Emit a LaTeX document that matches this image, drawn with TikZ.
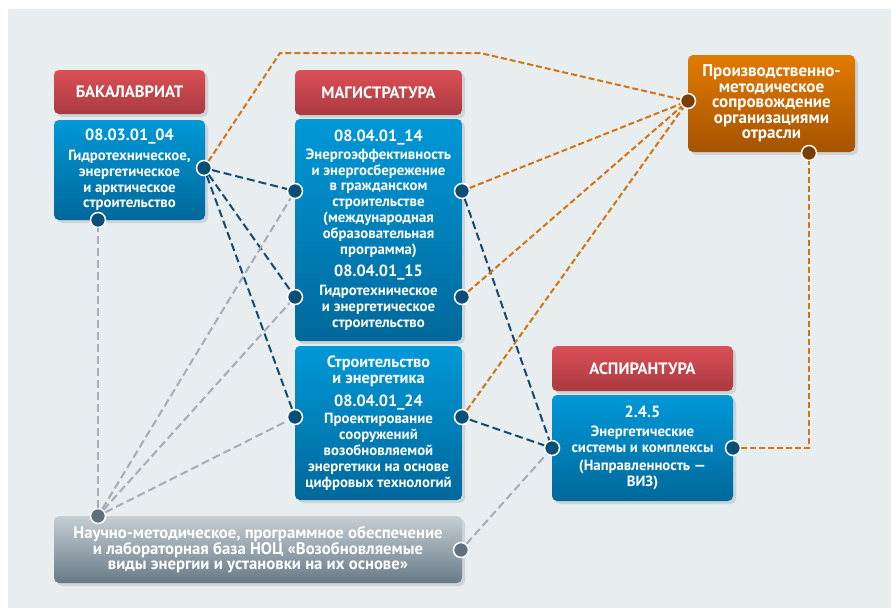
\documentclass[tikz,border=0pt]{standalone}
\usepackage{fontspec}
\setmainfont{PT Sans}
\usetikzlibrary{shadows}

\definecolor{bgcol}{HTML}{E8EDF0}
\definecolor{shadowcol}{HTML}{CDD5DB}
\definecolor{redtop}{HTML}{DC4F56}
\definecolor{redbot}{HTML}{A93A40}
\definecolor{bluetop}{HTML}{0098D8}
\definecolor{bluebot}{HTML}{00689A}
\definecolor{orangetop}{HTML}{E27A00}
\definecolor{orangebot}{HTML}{A55300}
\definecolor{greytop}{HTML}{C5CED4}
\definecolor{greybot}{HTML}{687A87}
\definecolor{dotnavy}{HTML}{0B4F78}
\definecolor{dotbrown}{HTML}{7A3E00}
\definecolor{dotgrey}{HTML}{5E717D}
\definecolor{navyline}{HTML}{154A6C}
\definecolor{orline}{HTML}{D27410}
\definecolor{greyline}{HTML}{A2ADB5}

\newcommand{\code}[1]{{\fontsize{16.2}{18}\selectfont #1}}
\newcommand{\subj}[1]{{\fontsize{16.3}{15.5}\selectfont #1}}

\tikzset{
  box/.style={rounded corners=5pt, text=white, align=center, inner sep=2pt,
    font=\bfseries\fontsize{14.8}{15.8}\selectfont,
    drop shadow={shadow xshift=3pt, shadow yshift=-3pt, fill=shadowcol, opacity=1}},
  headbox/.style={box, top color=redtop, bottom color=redbot,
    font=\bfseries\fontsize{16.5}{20}\selectfont},
  progbox/.style={box, top color=bluetop, bottom color=bluebot},
  orgbox/.style={box, top color=orangetop, bottom color=orangebot,
    font=\bfseries\fontsize{17}{15.6}\selectfont},
  nocbox/.style={box, top color=greytop, bottom color=greybot,
    font=\bfseries\fontsize{16.7}{15}\selectfont},
  dot/.style={circle, draw=white, line width=1.5pt, fill=dotnavy,
    minimum size=15pt, inner sep=0pt},
  navylink/.style={draw=navyline, line width=2pt, dash pattern=on 8pt off 4pt},
  greylink/.style={draw=greyline, line width=2pt, dash pattern=on 8pt off 4pt},
  orangelink/.style={draw=orline, line width=2pt, dash pattern=on 6pt off 3pt},
}

\begin{document}
\begin{tikzpicture}[x=1pt,y=-1pt]

  \useasboundingbox (0,0) rectangle (891,608);
  \fill[bgcol] (8,9) rectangle (891,608);

  \node[headbox, minimum width=151pt, minimum height=44pt] (bakhead) at (129.5,92) {БАКАЛАВРИАТ};
  \node[progbox, minimum width=151pt, minimum height=100pt] (bakbox) at (129.5,170)
    {\code{08.03.01\_04}\\[4pt]Гидротехническое,\\энергетическое\\и арктическое\\строительство};

  \node[headbox, minimum width=167pt, minimum height=45pt] (maghead) at (378.5,92.5) {МАГИСТРАТУРА};
  \node[progbox, minimum width=167pt, minimum height=222pt] (magbox) at (378.5,230)
    {\code{08.04.01\_14}\\[2pt]Энергоэффективность\\и энергосбережение\\в гражданском\\строительстве\\(международная\\образовательная\\программа)\\[7pt]
     \code{08.04.01\_15}\\[3pt]Гидротехническое\\и энергетическое\\строительство};
  \node[progbox, minimum width=167pt, minimum height=154pt] (enbox) at (378.5,423)
    {\subj{Строительство}\\\subj{и энергетика}\\[7pt]\code{08.04.01\_24}\\[2pt]Проектирование\\сооружений\\возобновляемой\\энергетики на основе\\цифровых технологий};

  \node[headbox, minimum width=181pt, minimum height=45pt] (asphead) at (642.5,368.5) {АСПИРАНТУРА};
  \node[progbox, minimum width=181pt, minimum height=106pt] (aspbox) at (642.5,448)
    {\code{2.4.5}\\[3pt]Энергетические\\системы и комплексы\\[3pt](Направленность —\\ВИЗ)};

  \node[orgbox, minimum width=167pt, minimum height=97pt] (orgbox) at (771.5,103.5)
    {Производственно-\\методическое\\сопровождение\\организациями\\отрасли};

  \node[nocbox, minimum width=408pt, minimum height=67pt] (nocbox) at (258,549.5)
    {Научно-методическое, программное обеспечение\\и лабораторная база НОЦ «Возобновляемые\\виды энергии и установки на их основе»};

  \node[dot] (bakR) at (204,168) {};
  \node[dot] (bakB) at (98,220) {};
  \node[dot] (magL1) at (295,191) {};
  \node[dot] (magL2) at (295,297) {};
  \node[dot] (enL) at (295,417) {};
  \node[dot] (magR1) at (462,191) {};
  \node[dot] (magR2) at (462,297) {};
  \node[dot] (enR) at (462,417) {};
  \node[dot] (aspL) at (552,448) {};
  \node[dot] (aspR) at (733,448) {};
  \node[dot, fill=dotbrown] (orgL) at (688,101) {};
  \node[dot, fill=dotbrown] (orgB) at (809,153) {};
  \node[dot, fill=dotgrey] (nocT) at (98,516) {};
  \node[dot, fill=dotgrey] (nocR) at (461,550) {};

  \coordinate (topL) at (280,53);
  \coordinate (topR) at (480,53);

  \begin{scope}[every path/.style={navylink}]
    \path (bakR) -- (magL1);
    \path (bakR) -- (magL2);
    \path (bakR) -- (enL);
    \path (magR1) -- (aspL);
    \path (enR) -- (aspL);
  \end{scope}

  \begin{scope}[every path/.style={greylink}]
    \path (nocT) -- (bakB);
    \path (nocT) -- (magL1);
    \path (nocT) -- (magL2);
    \path (nocT) -- (enL);
    \path (nocR) -- (aspL);
  \end{scope}

  \begin{scope}[every path/.style={orangelink}]
    \path (bakR) -- (topL) -- (topR) -- (orgL);
    \path (magR1) -- (orgL);
    \path (magR2) -- (orgL);
    \path (enR) -- (orgL);
    \path (aspR) -| (orgB);
  \end{scope}

\end{tikzpicture}
\end{document}
